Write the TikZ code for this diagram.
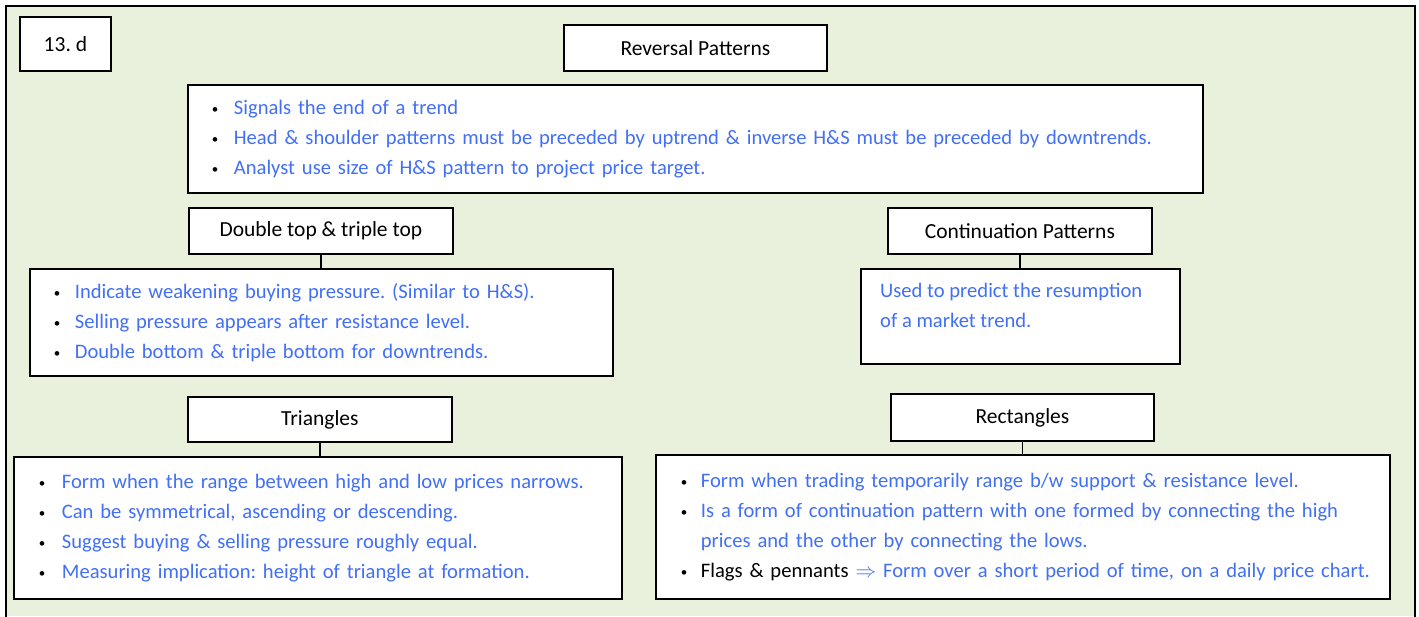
\documentclass[tikz,border=0pt]{standalone}
\usepackage{fontspec}
\setmainfont{Carlito}
\frenchspacing
\definecolor{bg}{RGB}{233,240,220}
\definecolor{txtblue}{RGB}{66,112,245}
\newcommand{\bl}[1][22pt]{\makebox[#1][l]{\color{black}\fontsize{13}{13}\selectfont\raisebox{1pt}{•}}}
\begin{document}
\begin{tikzpicture}[x=1pt,y=-1pt,
  boxstyle/.style={draw=black,line width=1.8pt,fill=white,inner sep=0pt,anchor=north west},
  labelbox/.style={boxstyle,font=\fontsize{21.5}{24}\selectfont,align=center},
  bulletbox/.style={boxstyle,font=\fontsize{20.6}{30}\selectfont\color{txtblue},align=left},
  link/.style={draw=black,line width=1.4pt}]
\useasboundingbox (0,0) rectangle (1419,616);
\fill[bg] (6,6) rectangle (1415,616);
\draw[line width=1.8pt] (6,620) -- (6,6) -- (1415,6) -- (1415,620);
% header label
\node[labelbox,minimum width=91pt,minimum height=54pt] (num) at (19,16) {13.\ d};
\node[labelbox,minimum width=263pt,minimum height=46pt] (rev) at (563,24) {Reversal Patterns};
% top bullets
\node[bulletbox,minimum width=1015pt,minimum height=108pt,text width=967pt] (revtxt) at (187,84) {\bl Signals the end of a trend\\
\bl Head \& shoulder patterns must be preceded by uptrend \& inverse H\&S must be preceded by downtrends.\\
\bl Analyst use size of H\&S pattern to project price target.};
% double top
\node[labelbox,minimum width=264pt,minimum height=46pt] (dbl) at (188,207) {Double top \& triple top};
\node[bulletbox,minimum width=583pt,minimum height=107pt,text width=535pt] (dbltxt) at (29,268) {\bl[21pt]Indicate weakening buying pressure. (Similar to H\&S).\\
\bl[21pt]Selling pressure appears after resistance level.\\
\bl[21pt]Double bottom \& triple bottom for downtrends.};
\draw[link] (dbl.south) -- (dbltxt.north -| dbl.south);
% continuation
\node[labelbox,minimum width=264pt,minimum height=46pt] (cont) at (887,207) {Continuation Patterns};
\node[boxstyle,minimum width=319pt,minimum height=95pt] (conttxt) at (860,268) {};
\node[anchor=north west,inner sep=0pt,font=\fontsize{20.6}{30}\selectfont\color{txtblue},align=left] (conttext) at (880,283) {Used to predict the resumption\\of a market trend.};
\draw[link] (cont.south) -- (conttxt.north -| cont.south);
% triangles
\node[labelbox,minimum width=264pt,minimum height=45pt] (tri) at (187,396) {Triangles};
\node[bulletbox,minimum width=608pt,minimum height=142pt,text width=558pt] (tritxt) at (13,456) {\bl[23pt]Form when the range between high and low prices narrows.\\
\bl[23pt]Can be symmetrical, ascending or descending.\\
\bl[23pt]Suggest buying \& selling pressure roughly equal.\\
\bl[23pt]Measuring implication: height of triangle at formation.};
\draw[link] (tri.south) -- (tritxt.north -| tri.south);
% rectangles
\node[labelbox,minimum width=263pt,minimum height=47pt] (rect) at (890,393) {Rectangles};
\node[bulletbox,minimum width=734pt,minimum height=144pt,text width=684pt] (recttxt) at (655,454) {\bl[20pt]Form when trading temporarily range b/w support \& resistance level.\\
\bl[20pt]Is a form of continuation pattern with one formed by connecting the high\\
\hspace*{20pt}prices and the other by connecting the lows.\\
\mbox{\bl[20pt]{\color{black}Flags \& pennants} $\Rightarrow$ Form over a short period of time, on a daily price chart.}};
\draw[link] (rect.south) -- (recttxt.north -| rect.south);
\end{tikzpicture}
\end{document}
